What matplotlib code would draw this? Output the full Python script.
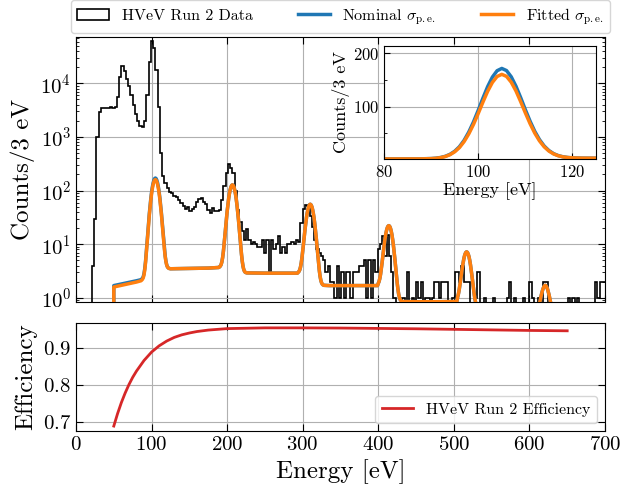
import numpy as np
import matplotlib
matplotlib.use("Agg")
import matplotlib.pyplot as plt
from matplotlib.ticker import MultipleLocator, FixedLocator

plt.rcParams.update({
    "font.family": "serif",
    "font.serif": ["cmr10", "DejaVu Serif"],
    "mathtext.fontset": "cm",
    "axes.unicode_minus": False,
    "axes.formatter.use_mathtext": True,
})

# ---------------- data ----------------
bin_width = 3  # eV
# counts per 3 eV bin, bins starting at 0, 3, 6, ... 699 eV
data_counts = [
    0, 0, 0, 0, 0, 0, 0, 4, 30, 1000,            # 0-27
    2900, 3400, 3500, 3500, 3450, 3600, 3500, 3600, 5500, 13000,  # 30-57
    21000, 17000, 12000, 9000, 6000, 4000, 2700, 2000, 1600, 1550,  # 60-87
    2000, 6000, 25000, 62000, 45000, 18000, 3700, 500, 190, 137,  # 90-117
    110, 95, 89, 80, 75, 67, 58, 52, 45, 50,      # 120-147
    41, 46, 50, 62, 70, 72, 62, 57, 44, 38,       # 150-177
    47, 42, 41, 44, 67, 120, 213, 316, 265, 213,  # 180-207
    100, 44, 26, 18, 12, 19, 12, 10, 11, 10,      # 210-237
    9, 9, 12, 7, 12, 3, 12, 8, 10, 14,            # 240-267
    7, 9, 7, 10, 10, 11, 10, 12, 11, 25,          # 270-297
    45, 55, 52, 33, 21, 12, 8, 7, 6, 5,           # 300-327
    3, 4, 2, 2, 1, 4, 1, 3, 1, 3,                 # 330-357
    3, 1, 3, 3, 3, 4, 4, 5, 1, 5,                 # 360-387
    1, 5, 3, 8, 10, 14, 6, 15, 6, 3,              # 390-417
    1, 0, 0, 0, 1, 0, 3, 0, 1, 0,                 # 420-447
    2, 1, 2, 0, 1, 1, 0, 1, 2, 2,                 # 450-477
    1, 2, 2, 2, 0, 0, 1, 3, 3, 2,                 # 480-507
    4, 2, 2, 2, 0, 0, 1, 3, 0, 0,                 # 510-537
    1, 0, 0, 0, 1, 0, 0, 0, 0, 0,                 # 540-567
    1, 2, 0, 1, 0, 0, 0, 1, 0, 0,                 # 570-597
    2, 1, 0, 0, 1, 0, 2, 2, 0, 0,                 # 600-627
    0, 0, 0, 0, 0, 0, 0, 1, 0, 1,                 # 630-657
    0, 1, 0, 0, 0, 0, 0, 0, 0, 2,                 # 660-687
    1, 2, 2, 2,                                   # 690-699
]

# Fitted sigma_pe model curve (energy in eV, counts / 3 eV)
fit_energy = (
    [50, 50, 60, 70, 80, 86]
    + list(range(87, 124))
    + [125, 150, 175, 189]
    + list(range(190, 225))
    + [226, 250, 280, 293]
    + list(range(294, 329))
    + [335, 370, 399]
    + list(range(400, 432))
    + [450, 480, 504]
    + list(range(505, 532))
    + [540, 570, 600, 606]
    + list(range(607, 636))
    + [645, 650]
)
fit_counts = (
    [0.01, 1.6, 1.72, 1.84, 1.98, 2.09]
    + [2.15, 2.23, 2.38, 2.71, 3.35, 4.53, 6.63, 10.07, 15.5, 23.4, 34.7, 49.3,
       67.1, 87.5, 108.9, 129.1, 145.7, 156.8, 160.8, 157.0, 146.1, 129.8, 109.7,
       88.5, 68.3, 50.5, 36.0, 24.8, 16.9, 11.45, 8.0, 5.93, 4.75, 4.11, 3.78,
       3.63, 3.55]
    + [3.5, 3.55, 3.6, 3.7]
    + [3.8, 3.93, 4.18, 4.69, 5.63, 7.28, 9.99, 14.3, 20.6, 29.4, 40.9, 55.0,
       71.0, 87.8, 103.6, 116.7, 125.3, 128.3, 125.2, 116.4, 103.2, 87.3, 70.4,
       54.4, 40.2, 28.7, 19.8, 13.5, 9.2, 6.48, 4.83, 3.89, 3.38, 3.13, 3.0]
    + [2.93, 2.9, 2.9, 2.9]
    + [3.0, 3.11, 3.32, 3.72, 4.43, 5.6, 7.41, 10.09, 13.87, 18.76, 24.78,
       31.58, 38.74, 45.45, 51.0, 54.6, 55.8, 54.4, 50.6, 44.85, 37.98, 30.7,
       23.8, 17.71, 12.77, 8.95, 6.25, 4.41, 3.23, 2.52, 2.12, 1.91, 1.8, 1.75,
       1.72]
    + [1.70, 1.70, 1.70]
    + [1.87, 2.02, 2.3, 2.75, 3.47, 4.52, 6.0, 7.91, 10.25, 12.91, 15.69, 18.31,
       20.45, 21.84, 22.28, 21.69, 20.16, 17.88, 15.16, 12.28, 9.56, 7.16, 5.21,
       3.71, 2.64, 1.92, 1.45, 1.17, 1.02, 0.93, 0.89, 0.86]
    + [0.85, 0.85, 0.86]
    + [1.04, 1.18, 1.4, 1.73, 2.18, 2.78, 3.5, 4.32, 5.18, 5.99, 6.66, 7.1,
       7.23, 7.04, 6.57, 5.9, 5.03, 4.14, 3.3, 2.56, 1.95, 1.49, 1.16, 0.94,
       0.8, 0.72, 0.67]
    + [0.6, 0.56, 0.53, 0.52]
    + [0.51, 0.52, 0.54, 0.56, 0.61, 0.67, 0.76, 0.87, 1.01, 1.17, 1.33, 1.48,
       1.6, 1.69, 1.72, 1.68, 1.58, 1.46, 1.3, 1.14, 0.97, 0.83, 0.71, 0.62,
       0.55, 0.51, 0.48, 0.46, 0.45]
    + [0.45, 0.45]
)

# Nominal sigma_pe model: differs from fitted only around the first peak
nom_energy_low = [50, 50, 60, 70, 80, 86] + list(range(87, 124))
nom_counts_low = (
    [0.01, 1.7, 1.82, 1.95, 2.09, 2.19]
    + [2.26, 2.34, 2.50, 2.85, 3.54, 4.80, 7.03, 10.73, 16.5, 25.0, 37.05, 52.7,
       71.8, 93.5, 116.3, 137.9, 155.7, 167.6, 171.9, 167.9, 156.2, 138.6, 117.2,
       94.4, 72.9, 53.8, 38.3, 26.3, 17.8, 12.0, 8.33, 6.10, 4.84, 4.15, 3.80,
       3.64, 3.56]
)

# Efficiency curve
eff_energy = [50, 55, 60, 65, 70, 75, 80, 90, 100, 110, 120, 130, 140, 150, 160,
              175, 200, 250, 300, 350, 400, 450, 500, 550, 600, 650]
eff_values = [0.688, 0.722, 0.752, 0.778, 0.801, 0.821, 0.838, 0.867, 0.890,
              0.907, 0.920, 0.930, 0.937, 0.942, 0.946, 0.950, 0.954, 0.956,
              0.956, 0.9555, 0.9545, 0.9535, 0.952, 0.9505, 0.949, 0.948]

# ---------------- build ----------------
counts = np.array(data_counts, dtype=float)
edges = np.arange(len(counts) + 1) * bin_width
fit_E = np.array(fit_energy, dtype=float)
fit_y = np.array(fit_counts, dtype=float)
mask_hi = fit_E > nom_energy_low[-1]
nom_E = np.concatenate([nom_energy_low, fit_E[mask_hi]])
nom_y = np.concatenate([nom_counts_low, fit_y[mask_hi]])

BLUE = "#1f77b4"
ORANGE = "#ff7f0e"
RED = "#d62728"
GRID = dict(color="#b0b0b0", lw=0.8)

fig = plt.figure(figsize=(6.21, 4.93), dpi=100)
ax = fig.add_axes([0.1224, 0.3874, 0.8518, 0.5375])
axb = fig.add_axes([0.1224, 0.1258, 0.8518, 0.2191])

# top panel
_, _, hpatches = ax.hist(edges[:-1], bins=edges, weights=counts, histtype="step",
                         color="black", lw=1.2, log=True, zorder=2)
l_nom, = ax.plot(nom_E, nom_y, color=BLUE, lw=2.5, zorder=3)
l_fit, = ax.plot(fit_E, fit_y, color=ORANGE, lw=2.5, zorder=4)
ax.set_yscale("log")
ax.set_xlim(0, 700)
ax.set_ylim(0.84, 7.3e4)
ax.xaxis.set_major_locator(MultipleLocator(100))
ax.grid(True, which="major", **GRID)
ax.set_axisbelow(True)
ax.tick_params(which="both", direction="in", top=True, right=True,
               labelbottom=False, labelsize=15)
ax.tick_params(which="major", length=5)
ax.tick_params(which="minor", length=2.5)
ax.set_ylabel("Counts/3 eV", fontsize=18)

ax.legend([hpatches[0], l_nom, l_fit],
          ["HVeV Run 2 Data", r"Nominal $\sigma_{\mathrm{p.e.}}$",
           r"Fitted $\sigma_{\mathrm{p.e.}}$"],
          loc="lower left", bbox_to_anchor=(-0.0095, 1.015, 1.019, 0.1),
          mode="expand", ncol=3, borderaxespad=0, fontsize=11.5)

# inset
axi = fig.add_axes([0.6184, 0.6775, 0.3414, 0.2292])
axi.plot(nom_E, nom_y, color=BLUE, lw=2.5)
axi.plot(fit_E, fit_y, color=ORANGE, lw=2.5)
axi.set_xlim(80, 125)
axi.set_ylim(2, 214)
axi.xaxis.set_major_locator(FixedLocator([80, 100, 120]))
axi.yaxis.set_major_locator(FixedLocator([100, 200]))
axi.yaxis.set_minor_locator(FixedLocator([50, 150]))
axi.grid(True, which="major", **GRID)
axi.tick_params(which="both", direction="in", labelsize=12)
axi.tick_params(which="major", length=4)
axi.tick_params(which="minor", length=2.5)
axi.set_xlabel("Energy [eV]", fontsize=13, labelpad=2)
axi.set_ylabel("Counts/3 eV", fontsize=13, labelpad=2)

# bottom panel
axb.plot(eff_energy, eff_values, color=RED, lw=2, label="HVeV Run 2 Efficiency")
axb.set_xlim(0, 700)
axb.xaxis.set_major_locator(MultipleLocator(100))
axb.yaxis.set_major_locator(FixedLocator([0.7, 0.8, 0.9]))
axb.grid(True, which="major", **GRID)
axb.tick_params(which="both", direction="in", top=True, right=True, labelsize=15)
axb.tick_params(which="major", length=5)
axb.set_xlabel("Energy [eV]", fontsize=18)
axb.set_ylabel("Efficiency", fontsize=18)
axb.legend(loc="lower right", fontsize=11.5)

fig.align_ylabels([ax, axb])
fig.savefig("out.png", dpi=100)
